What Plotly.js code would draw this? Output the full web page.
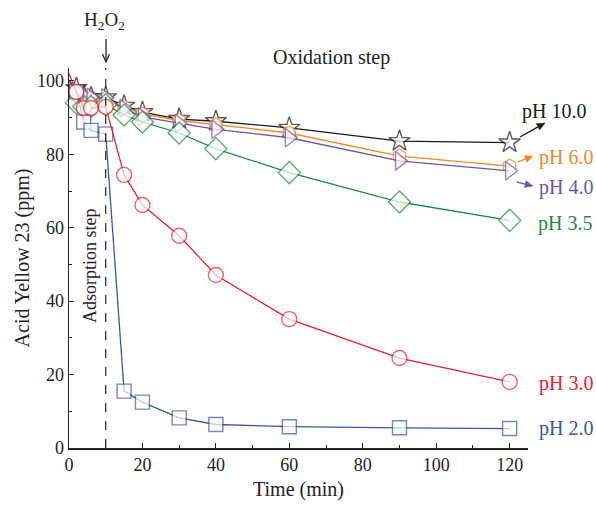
<!DOCTYPE html>
<html>
<head>
<meta charset="utf-8">
<script src="https://cdn.plot.ly/plotly-3.0.1.min.js"></script>
<style>html,body{margin:0;padding:0;background:#fff;}#chart{width:596px;height:506px;}</style>
</head>
<body>
<div id="chart"></div>
<script>
// Time (min)
const time = [0, 2, 4, 6, 10, 15, 20, 30, 40, 60, 90, 120];
// Acid Yellow 23 concentration (ppm) per pH
const pH10 = [100, 98, 96, 95.5, 95.5, 93.2, 91.5, 89.6, 89.0, 87.2, 83.6, 83.2];
const pH6  = [100, 97, 95, 95, 95, 93, 91, 89.2, 88.0, 85.8, 79.5, 76.8];
const pH4  = [100, 97, 96, 95.5, 95.4, 92.5, 90.2, 88.4, 86.8, 84.5, 78.2, 75.5];
const pH35 = [96, 94, 93, 93, 93.5, 90.7, 88.8, 85.8, 81.5, 75.0, 67.0, 62.0];
const pH2  = [100, 97, 88.8, 86.5, 85.5, 15.5, 12.5, 8.2, 6.4, 5.8, 5.5, 5.3];
const pH3  = [102, 97, 92.6, 92.6, 92.9, 74.4, 66.2, 57.8, 47.1, 35.1, 24.5, 18.0];
const seriesNames = ['pH 10.0', 'pH 6.0', 'pH 4.0', 'pH 3.5', 'pH 2.0', 'pH 3.0'];

const FONT = 'Liberation Serif, DejaVu Serif, serif';
const W = 596, H = 506, ML = 69, MR = 68, MT = 68, MB = 58;
const PW = W - ML - MR, PH = H - MT - MB;
function px(x){ return (x - ML) / PW; }
function py(y){ return (H - MB - y) / PH; }

function sizes(s){ return time.map((t,i)=> i===0 ? 0 : s); }
function tr(y, name, color, symbol, size){
  return {x: time, y: y, name: name, type: 'scatter', mode: 'lines+markers',
    line: {color: color, width: 1.3},
    marker: {symbol: symbol, size: sizes(size), color: '#fff', line: {color: color, width: 1.4}},
    cliponaxis: false};
}
const C = {k:'#1a1a1a', o:'#f7862a', p:'#6c55a8', g:'#1f8a43', b:'#3a57a7', r:'#ec2227'};
const data = [
  tr(pH10, seriesNames[0], C.k, 'star', 16),
  tr(pH6,  seriesNames[1], C.o, 'hexagon', 14),
  tr(pH4,  seriesNames[2], C.p, 'triangle-right', 16),
  tr(pH35, seriesNames[3], C.g, 'diamond', 17),
  tr(pH2,  seriesNames[4], C.b, 'square', 14),
  tr(pH3,  seriesNames[5], C.r, 'circle', 15)
];

function ptxt(x, y, text, color, size, extra){
  return Object.assign({x:px(x), y:py(y), xref:'paper', yref:'paper', xanchor:'center', yanchor:'middle',
    text:text, showarrow:false, font:{family:FONT, size:size||16, color:color}}, extra||{});
}
const annotations = [
  ptxt(104, 21, 'H<sub>2</sub>O<sub>2</sub>', '#222', 19),
  ptxt(331, 58, 'Oxidation step', '#222', 20),
  ptxt(90, 266, 'Adsorption step', '#222', 18, {textangle:-90}),
  ptxt(554, 111, 'pH 10.0', C.k, 20),
  ptxt(566, 157, 'pH 6.0', C.o, 20),
  ptxt(566, 187, 'pH 4.0', C.p, 20),
  ptxt(565, 223, 'pH 3.5', C.g, 20),
  ptxt(566, 383, 'pH 3.0', C.r, 20),
  ptxt(566, 428, 'pH 2.0', C.b, 20)
];

// arrow shapes (pixel geometry converted to paper)
const shapes = [{type:'line', xref:'x', yref:'y', x0:10, x1:10, y0:0, y1:104.5,
  line:{color:'#222', width:1.2, dash:'dash'}}];
function arrow(x0, y0, x1, y1, color, open){
  const dx = x1 - x0, dy = y1 - y0, L = Math.hypot(dx, dy);
  const ux = dx / L, uy = dy / L, hl = 8, hw = 3.5;
  const bx = x1 - hl * ux, by = y1 - hl * uy;
  const ax = bx + hw * (-uy), ay = by + hw * ux, cx = bx - hw * (-uy), cy = by - hw * ux;
  const endx = open ? x1 : bx, endy = open ? y1 : by;
  shapes.push({type:'line', xref:'paper', yref:'paper', x0:px(x0), y0:py(y0), x1:px(endx), y1:py(endy),
    line:{color:color, width:1.3}});
  if (open) {
    const p = `M${px(ax)},${py(ay)} L${px(x1)},${py(y1)} L${px(cx)},${py(cy)}`;
    shapes.push({type:'path', xref:'paper', yref:'paper', path:p, line:{color:color, width:1.2}});
  } else {
    const p = `M${px(x1)},${py(y1)} L${px(ax)},${py(ay)} L${px(cx)},${py(cy)} Z`;
    shapes.push({type:'path', xref:'paper', yref:'paper', path:p, fillcolor:color, line:{color:color, width:0.5}});
  }
}
arrow(106, 39, 106, 62, '#222', true);
arrow(520, 137, 545, 123, C.k, false);
arrow(518, 162, 533, 156, C.o, false);
arrow(517, 182, 533, 186, C.p, false);

const layout = {
  width: W, height: H,
  margin: {l: ML, r: MR, t: MT, b: MB},
  paper_bgcolor: '#fff', plot_bgcolor: '#fff',
  showlegend: false,
  font: {family: FONT, size: 15, color: '#222'},
  xaxis: {
    range: [0, 125], tickvals: [0,20,40,60,80,100,120],
    ticks: 'inside', ticklen: 5, tickwidth: 1, tickcolor: '#222',
    minor: {dtick: 10, tick0: 0, ticks: 'inside', ticklen: 3, tickcolor: '#222'},
    showline: true, linecolor: '#222', linewidth: 1.5, showgrid: false, zeroline: false,
    tickfont: {family: FONT, size: 18, color: '#222'},
    title: {text: 'Time (min)', font: {family: FONT, size: 20, color: '#222'}, standoff: 8}
  },
  yaxis: {
    range: [0, 103.5], tickvals: [0,20,40,60,80,100],
    ticks: 'inside', ticklen: 5, tickwidth: 1, tickcolor: '#222',
    minor: {dtick: 10, tick0: 0, ticks: 'inside', ticklen: 3, tickcolor: '#222'},
    showline: true, linecolor: '#222', linewidth: 1.5, showgrid: false, zeroline: false,
    tickfont: {family: FONT, size: 18, color: '#222'},
    title: {text: 'Acid Yellow 23 (ppm)', font: {family: FONT, size: 20, color: '#222'}, standoff: 2}
  },
  shapes: shapes,
  annotations: annotations
};
Plotly.newPlot('chart', data, layout, {displayModeBar: false, staticPlot: true});
</script>
</body>
</html>
